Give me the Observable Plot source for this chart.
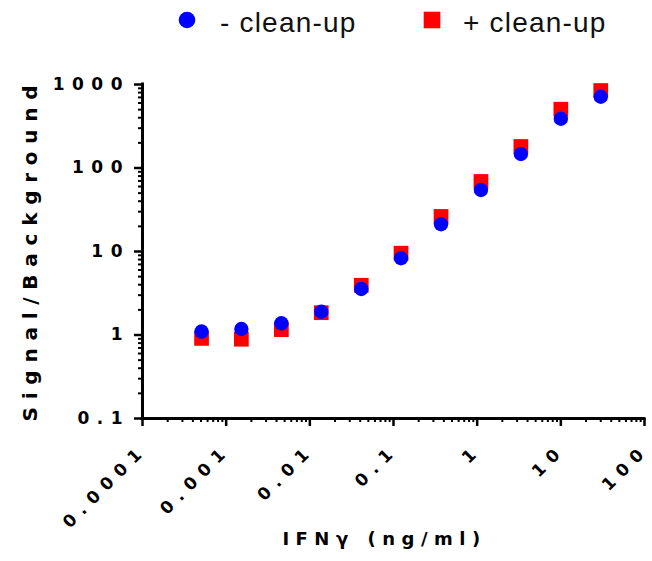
<!DOCTYPE html>
<html>
<head>
<meta charset="utf-8">
<script src="https://cdn.jsdelivr.net/npm/d3@7"></script>
<script src="https://cdn.jsdelivr.net/npm/@observablehq/plot@0.6"></script>
<style>
  body { margin: 0; background: #fff; }
  #wrap { position: relative; width: 652px; height: 561px; overflow: hidden; }
  #legend { position: absolute; left: 0; top: 0; width: 652px; height: 45px; }
  #chart { position: absolute; left: 0; top: 0; }
</style>
</head>
<body>
<div id="wrap"><div id="chart"></div><div id="legend"></div></div>
<script>
// concentrations of IFN-gamma (ng/ml), 3-fold dilution series
const concentrations = [0.000508, 0.00152, 0.00457, 0.0137, 0.0412, 0.123, 0.370, 1.11, 3.33, 10, 30];
const minusCleanup = [1.10, 1.18, 1.38, 1.90, 3.56, 8.3, 21.2, 54.5, 147, 389, 714];
const plusCleanup  = [0.91, 0.89, 1.16, 1.85, 3.94, 9.55, 26.3, 68.9, 181, 506, 847];
const seriesNames = ["- clean-up", "+ clean-up"];
const seriesColors = ["#0000ff", "#ff0000"];
const xTicks = [0.0001, 0.001, 0.01, 0.1, 1, 10, 100];
const xTickLabels = ["0.0001", "0.001", "0.01", "0.1", "1", "10", "100"];
const yTicks = [0.1, 1, 10, 100, 1000];
const yTickLabels = ["0.1", "1", "10", "100", "1000"];
const xTitle = "IFNγ (ng/ml)";
const yTitle = "Signal/Background";

const minorOf = (ticks) => ticks.slice(0, -1).flatMap(d => [2,3,4,5,6,7,8,9].map(k => d * k));
const xMinor = minorOf(xTicks);
const yMinor = minorOf(yTicks);

const minusData = concentrations.map((c, i) => ({conc: c, value: minusCleanup[i], series: seriesNames[0]}));
const plusData  = concentrations.map((c, i) => ({conc: c, value: plusCleanup[i], series: seriesNames[1]}));

const font = "DejaVu Sans";
const chart = Plot.plot({
  width: 652, height: 561,
  marginLeft: 142, marginRight: 8, marginTop: 84, marginBottom: 143,
  x: {type: "log", domain: [0.0001, 100]},
  y: {type: "log", domain: [0.1, 1000]},
  style: {fontFamily: font, color: "#000", background: "#fff", letterSpacing: "7.5px"},
  marks: [
    Plot.ruleY([0.1], {x1: 0.0001, x2: 100, strokeWidth: 3, strokeLinecap: "square"}),
    Plot.ruleX([0.0001], {y1: 0.1, y2: 1000, strokeWidth: 3, strokeLinecap: "square"}),
    Plot.axisY(yTicks, {tickSize: 8, strokeWidth: 2.5, fill: "none", label: null}),
    Plot.axisY(yMinor, {tickSize: 4, strokeWidth: 2, fill: "none", label: null}),
    Plot.axisY(yTicks, {tickSize: 0, tickPadding: 12.5, label: null, ariaLabel: "y tick labels",
      tickFormat: d => yTickLabels[yTicks.indexOf(d)], fontSize: 17, fontWeight: "bold"}),
    Plot.axisX(xTicks, {tickSize: 8, strokeWidth: 2.5, fill: "none", label: null}),
    Plot.axisX(xMinor, {tickSize: 4, strokeWidth: 2, fill: "none", label: null}),
    Plot.axisX(xTicks, {tickSize: 0, tickPadding: 28.5, dx: 1.5, tickRotate: -45, label: null, ariaLabel: "x tick labels",
      tickFormat: d => xTickLabels[xTicks.indexOf(d)], fontSize: 17, fontWeight: "bold"}),
    Plot.text([yTitle], {text: d => d, frameAnchor: "left", textAnchor: "middle", rotate: -90,
      dx: -112, dy: -2, fontSize: 20, fontWeight: "bold"}),
    Plot.text([xTitle], {text: d => d, frameAnchor: "bottom", textAnchor: "middle",
      dx: -9, dy: 126, fontSize: 18, fontWeight: "bold"}),
    Plot.dot(plusData, {x: "conc", y: "value", symbol: "square", r: 8.3, fill: seriesColors[1]}),
    Plot.dot(minusData, {x: "conc", y: "value", symbol: "circle", r: 7.2, fill: seriesColors[0]})
  ]
});
document.getElementById("chart").appendChild(chart);
const svg = d3.select(chart);
// letter spacing of the titles
svg.selectAll("text").filter(function() { return this.textContent === yTitle; }).style("letter-spacing", "7.75px");
svg.selectAll("text").filter(function() { return this.textContent === xTitle; }).style("letter-spacing", "6.5px");
// no spacing after the last character of the tick labels
svg.selectAll('g[aria-label="y tick labels"] text, g[aria-label="x tick labels"] text').each(function() {
  const s = this.textContent;
  const t = d3.select(this);
  t.text(null);
  t.append("tspan").text(s.slice(0, -1));
  t.append("tspan").style("letter-spacing", "0px").text(s.slice(-1));
});

// legend
const lg = d3.select("#legend").append("svg").attr("width", 652).attr("height", 45)
  .style("font-family", "'Liberation Sans', Arial, sans-serif");
const legendItems = [
  {name: seriesNames[0], color: seriesColors[0], shape: "circle", sx: 187, tx: 220},
  {name: seriesNames[1], color: seriesColors[1], shape: "square", sx: 432, tx: 463}
];
legendItems.forEach(it => {
  if (it.shape === "circle") {
    lg.append("circle").attr("cx", it.sx).attr("cy", 20).attr("r", 8.3).attr("fill", it.color);
  } else {
    lg.append("rect").attr("x", it.sx - 8.3).attr("y", 11.7).attr("width", 16.6).attr("height", 16.6).attr("fill", it.color);
  }
  lg.append("text").attr("x", it.tx).attr("y", 32).attr("font-size", 28).attr("letter-spacing", "1.2px")
    .attr("fill", "#111").text(it.name);
});
</script>
</body>
</html>
